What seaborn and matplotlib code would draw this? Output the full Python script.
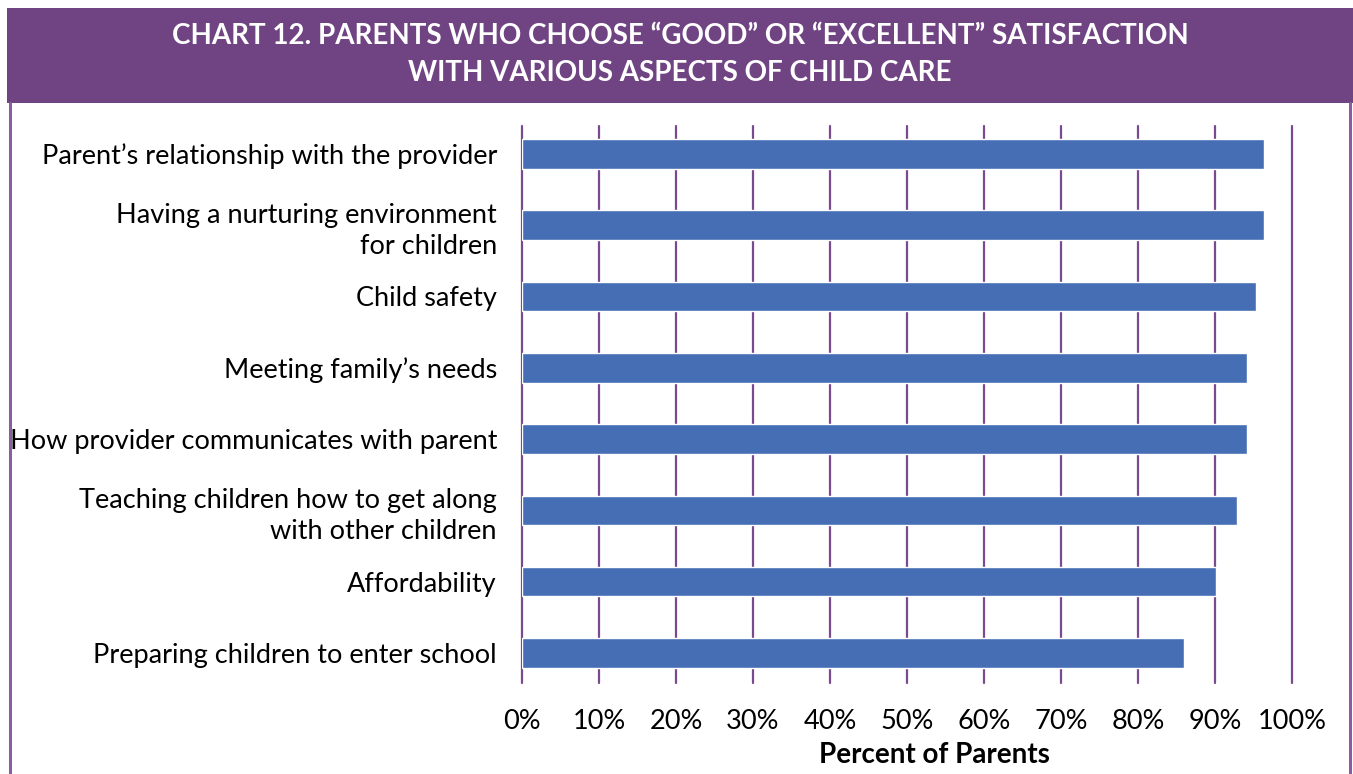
import matplotlib
matplotlib.use("Agg")
import matplotlib.pyplot as plt
from matplotlib.patches import Rectangle
from matplotlib.lines import Line2D
from matplotlib.ticker import FuncFormatter, MultipleLocator
import pandas as pd
import seaborn as sns

# Survey items and share of parents rating them "good" or "excellent" (%)
aspects = [
    "Parent\u2019s relationship with the provider",
    "Having a nurturing environment\nfor children",
    "Child safety",
    "Meeting family\u2019s needs",
    "How provider communicates with parent",
    "Teaching children how to get along\nwith other children",
    "Affordability",
    "Preparing children to enter school",
]
percent_good = [96.4, 96.4, 95.3, 94.2, 94.2, 92.9, 90.1, 86.0]

title_lines = [
    "CHART 12. PARENTS WHO CHOOSE \u201cGOOD\u201d OR \u201cEXCELLENT\u201d SATISFACTION",
    "WITH VARIOUS ASPECTS OF CHILD CARE",
]
x_label = "Percent of Parents"

PURPLE = "#704383"
GRID_PURPLE = "#7a4a8f"
BAR_BLUE = "#466EB4"

sns.set_theme(style="white")
plt.rcParams["font.family"] = ["Lato", "DejaVu Sans"]

W, H = 1353, 774
fig = plt.figure(figsize=(W / 100, H / 100), dpi=100)
fig.patch.set_facecolor("white")

# Header banner and side frame
fig.patches.append(Rectangle((7 / W, 1 - 103 / H), 1 - 7 / W, 95 / H,
                             transform=fig.transFigure, facecolor=PURPLE,
                             edgecolor="none", zorder=0))
for xp in (9.5 / W, 1350 / W):
    fig.lines.append(Line2D([xp, xp], [0, 1 - 103 / H], transform=fig.transFigure,
                            color="#8a5d9e", linewidth=2.2))

fig.text(680 / W, 1 - 36 / H, title_lines[0], ha="center", va="center",
         color="white", fontsize=20, fontweight="bold")
fig.text(680 / W, 1 - 73 / H, title_lines[1], ha="center", va="center",
         color="white", fontsize=20, fontweight="bold")

ax = fig.add_axes([522 / W, 1 - 683 / H, (1292 - 522) / W, (683 - 126) / H])

df = pd.DataFrame({"aspect": aspects, "pct": percent_good})
sns.barplot(data=df, x="pct", y="aspect", orient="h", color=BAR_BLUE,
            width=0.414, saturation=1, ax=ax, zorder=3)

ax.set_xlim(0, 100)
ax.set_ylim(7.42, -0.39)
ax.xaxis.set_major_locator(MultipleLocator(10))
ax.xaxis.set_major_formatter(FuncFormatter(lambda v, _: f"{v:.0f}%"))
ax.grid(axis="x", color=GRID_PURPLE, linewidth=1.6, zorder=1)
ax.set_axisbelow(True)
for gl in ax.get_xgridlines():
    gl.set_clip_on(False)
for s in ax.spines.values():
    s.set_visible(False)

ax.tick_params(axis="y", length=0, pad=18, labelsize=19.5, labelcolor="black")
ax.tick_params(axis="x", length=0, pad=19, labelsize=19.5, labelcolor="black")
for lbl in ax.get_yticklabels():
    lbl.set_horizontalalignment("right")
    lbl.set_linespacing(1.32)

ax.set_ylabel("")
ax.set_xlabel(x_label, fontsize=20, fontweight="bold", color="black", va="center")
ax.xaxis.set_label_coords(0.536, -0.129)

fig.savefig("out.png", dpi=100, facecolor="white")
